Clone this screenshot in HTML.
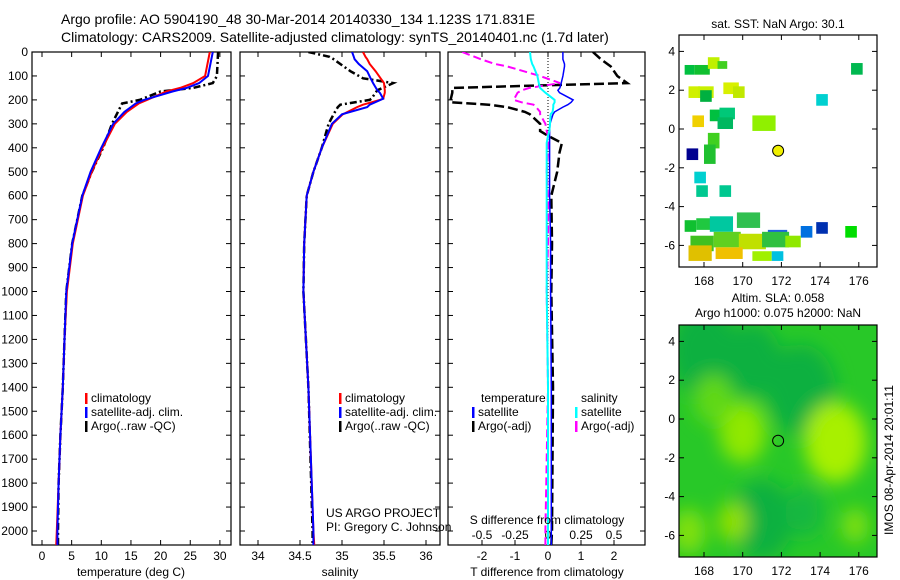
<!DOCTYPE html>
<html><head><meta charset="utf-8"><style>
body{margin:0;background:#fff;}
svg{display:block;font-family:"Liberation Sans",sans-serif;}
text{fill:#000;}
</style></head><body>
<svg id="fig" width="900" height="580" viewBox="0 0 900 580" xmlns="http://www.w3.org/2000/svg">
<defs>
<filter id="blur" x="-50%" y="-50%" width="200%" height="200%"><feGaussianBlur stdDeviation="9"/></filter>
<clipPath id="clipP1"><rect x="32" y="52" width="199" height="493"/></clipPath>
<clipPath id="clipP2"><rect x="240" y="52" width="200" height="493"/></clipPath>
<clipPath id="clipP3"><rect x="448" y="52" width="197" height="493"/></clipPath>
<clipPath id="clipM1"><rect x="679" y="35" width="198" height="232"/></clipPath>
<clipPath id="clipM2"><rect x="679" y="325" width="198" height="232"/></clipPath>
</defs>
<text x="61" y="24" font-size="14">Argo profile: AO 5904190_48 30-Mar-2014 20140330_134 1.123S 171.831E</text>
<text x="61" y="42" font-size="14">Climatology: CARS2009. Satellite-adjusted climatology: synTS_20140401.nc (1.7d later)</text>
<g id="g1"></g>
<g id="g2"></g>
<g id="g3"></g>
<g id="m1"></g>
<g id="m2"></g>
<text x="778" y="28" font-size="12" text-anchor="middle">sat. SST: NaN Argo: 30.1</text>
<text x="778" y="302" font-size="12" text-anchor="middle">Altim. SLA: 0.058</text>
<text x="778" y="317" font-size="12" text-anchor="middle">Argo h1000: 0.075 h2000: NaN</text>
<text transform="translate(893,460) rotate(-90)" font-size="12" text-anchor="middle">IMOS 08-Apr-2014 20:01:11</text>
<text x="326" y="517" font-size="12">US ARGO PROJECT</text>
<text x="326" y="531" font-size="12">PI: Gregory C. Johnson</text>
</svg>
<script>
const NS="http://www.w3.org/2000/svg";
// depth grids and profiles
const depthT=[0,100,130,150,165,200,215,250,300,400,500,600,800,1000,1200,1400,1600,1800,2000,2060];
const tempClim=[28.3,27.5,25.5,23.3,21,17.7,16.3,14.3,12.3,10.2,8.4,6.9,5.2,4.2,3.8,3.5,3.1,2.8,2.5,2.4];
const tempSat=[28.8,28.0,26.5,24.4,22,17.2,15.8,13.9,12.0,10.0,8.2,6.8,5.1,4.1,3.8,3.5,3.1,2.8,2.6,2.6];
const tempArgo=[29.7,29.5,28.8,25.5,20,16.5,13.5,12.8,11.8,10.3,8.4,6.8,5.1,4.1,3.8,3.5,3.1,2.8,2.7,2.7];
const depthS=[0,20,30,50,80,110,130,160,170,195,200,220,230,260,300,400,500,600,800,1000,1400,2000,2060];
const salClim=[35.25,35.28,35.3,35.33,35.4,35.46,35.5,35.51,35.51,35.49,35.45,35.25,35.18,35.01,34.89,34.76,34.66,34.58,34.55,34.54,34.6,34.66,34.67];
const salSat=[35.12,35.14,35.15,35.2,35.3,35.34,35.37,35.42,35.45,35.49,35.46,35.33,35.3,35.0,34.88,34.76,34.66,34.58,34.55,34.54,34.6,34.66,34.66];
const salArgo=[34.6,34.85,34.9,34.98,35.1,35.25,35.61,35.42,35.4,35.35,35.33,34.98,34.95,34.9,34.84,34.76,34.66,34.58,34.55,34.54,34.6,34.65,34.65];
const depthD=[0,30,50,60,100,130,150,160,170,200,210,220,230,250,260,300,330,350,380,420,500,600,800,1000,1400,2000,2060];
const tDiffSat=[0.45,0.45,0.5,0.5,0.45,0.4,0.36,0.3,0.35,0.76,0.7,0.6,0.45,0.2,0.15,0.06,0.05,0.05,0.05,0.05,0.05,0.05,0.08,0.08,0.1,0.1,0.1];
const sDiffSat=[-0.136,-0.13,-0.12,-0.11,-0.08,-0.07,-0.06,-0.04,-0.02,0.05,0.05,0.04,0.04,0.035,0.02,0.015,0.01,0.0,-0.01,-0.01,-0.01,-0.01,-0.01,-0.01,0.0,0.0,0.0];
const tDiffArgo=[1.36,1.6,1.8,1.9,2.1,2.4,-2.9,-2.9,-2.9,-2.95,-2.95,-1.8,-1.24,-0.7,-0.55,-0.24,-0.24,0.0,0.42,0.35,0.28,0.1,0.12,0.1,0.15,0.12,0.1];
const sDiffArgo=[-0.65,-0.51,-0.4,-0.31,-0.06,0.09,-0.14,-0.2,-0.23,-0.26,-0.2,-0.11,-0.09,-0.06,-0.06,-0.02,-0.01,0.0,0.0,0.0,-0.01,0.0,0.0,-0.01,0.0,-0.02,-0.02];
const tTicks=[0,5,10,15,20,25,30];
const sTicks=[34,34.5,35,35.5,36];
const dTicksT=[-2,-1,0,1,2];
const dTicksS=[-0.5,-0.25,0,0.25,0.5];
const depthTicks=[0,100,200,300,400,500,600,700,800,900,1000,1100,1200,1300,1400,1500,1600,1700,1800,1900,2000];
// maps
const lonTicks=[168,170,172,174,176];
const latTicks=[4,2,0,-2,-4,-6];
const sstLon=[167,167.5,168.2,168.7,167.2,167.7,169,169.5,167.8,168.3,168.8,167.4,168.7,170.5,168.2,167.1,168,173.8,175.6,167.5,167.6,168.8,167,167.6,168.3,169.7,171.3,173,173.8,175.3,167.3,168.5,169.8,171.0,172.2,167.2,168.6,170.5,171.5];
const sstLat=[2.8,2.8,3.1,3.1,1.6,1.6,1.8,1.6,1.4,0.4,0.5,0.1,0.0,-0.1,-1.0,-1.6,-1.8,1.2,2.8,-2.8,-3.5,-3.5,-5.3,-5.2,-5.3,-5.1,-5.8,-5.6,-5.4,-5.6,-6.3,-6.1,-6.2,-6.1,-6.1,-6.8,-6.7,-6.8,-6.8];
const sstW=[0.5,0.8,0.6,0.5,0.6,0.8,0.8,0.6,0.6,0.8,0.8,0.6,0.8,1.2,0.6,0.6,0.6,0.6,0.6,0.6,0.6,0.6,0.6,1.2,1.2,1.2,1.0,0.6,0.6,0.6,1.2,1.4,1.4,1.4,0.8,1.2,1.4,1.0,0.6];
const sstH=[0.5,0.5,0.6,0.4,0.6,0.6,0.6,0.6,0.6,0.6,0.6,0.6,0.6,0.8,0.8,0.6,1.0,0.6,0.6,0.6,0.6,0.6,0.6,0.6,0.8,0.8,0.6,0.6,0.6,0.6,0.8,0.8,0.8,0.8,0.6,0.8,0.6,0.5,0.5];
const sstCol=["#00c040","#10c030","#c0f000","#40d020","#d0f000","#c8f000","#d8f000","#c0e800","#00b040","#00c040","#00c878","#f0d000","#00b860","#90f000","#40d020","#000090","#20c030","#00d0d0","#00b850","#00d0d0","#00c890","#00c890","#10c030","#20c840","#00c8a0","#30c050","#2060e0","#0070e0","#0030b0","#00dd00","#40c020","#60d020","#c0e000","#30c040","#90e800","#e0c000","#f0c000","#a0f000","#00c0e0"];
const blobLon=[168,170.5,173,174.8,170,167.2,175.8,171,169.5,168.5,173.2];
const blobLat=[3.5,3,1.5,-1.2,-0.7,-5.8,-5.5,-5.2,-5.3,1.0,-4.8];
const blobCol=["#10b040","#10b040","#10b040","#a8f000","#90e800","#80e010","#80e010","#10b040","#90e000","#60d818","#18b840"];
const blobR=[1.8,1.5,1.8,1.6,1.2,0.9,0.7,1.6,0.8,1.0,1.0];
const argoLon=171.831, argoLat=-1.123;

function el(tag,attrs,parent){const e=document.createElementNS(NS,tag);for(const k in attrs)e.setAttribute(k,attrs[k]);parent.appendChild(e);return e;}
const yD=d=>52+d*0.2395;

function frame(g,x0,x1,name){
  const r=el('rect',{x:x0,y:52,width:x1-x0,height:493,fill:'none',stroke:'#000','stroke-width':1.2},g);
  
  
}
function depthAxis(g,x0,x1,labels){
  depthTicks.forEach(d=>{
    const y=yD(d);
    el('line',{x1:x0,y1:y,x2:x0+5,y2:y,stroke:'#000'},g);
    el('line',{x1:x1,y1:y,x2:x1-5,y2:y,stroke:'#000'},g);
    if(labels){const t=el('text',{x:x0-4,y:y+4,'font-size':12,'text-anchor':'end'},g);t.textContent=d;
      
      }
  });
}
function xAxis(g,ticks,fx,labY,fmt){
  ticks.forEach(v=>{const x=fx(v);
    el('line',{x1:x,y1:545,x2:x,y2:540,stroke:'#000'},g);
    el('line',{x1:x,y1:52,x2:x,y2:57,stroke:'#000'},g);
    const t=el('text',{x:x,y:labY,'font-size':12,'text-anchor':'middle'},g);t.textContent=fmt?fmt(v):v;
    
    
  });
}
function line(g,xs,ds,fx,col,dash,w,name,clip){
  const pts=xs.map((v,i)=>fx(v).toFixed(1)+','+yD(ds[i]).toFixed(1)).join(' ');
  const p=el('polyline',{points:pts,fill:'none',stroke:col,'stroke-width':w,'clip-path':'url(#'+clip+')'},g);
  if(dash)p.setAttribute('stroke-dasharray',dash);
  
  
}
function legend(g,x,y,items){
  items.forEach((it,i)=>{
    el('rect',{x:x,y:y+i*14-9,width:2.5,height:11,fill:it[0]},g);
    const t=el('text',{x:x+6,y:y+i*14,'font-size':12},g);t.textContent=it[1];
    
    
  });
}
// panel 1
const g1=document.getElementById('g1');
const fT=v=>42+v*5.93;
frame(g1,32,231,'temperature');depthAxis(g1,32,231,true);xAxis(g1,tTicks,fT,560);
line(g1,tempArgo,depthT,fT,'#000','7,3,2,3',2.5,'argo-temperature-line','clipP1');
line(g1,tempClim,depthT,fT,'#f00',null,2,'climatology-temperature-line','clipP1');
line(g1,tempSat,depthT,fT,'#00f',null,2,'satellite-temperature-line','clipP1');
let t=el('text',{x:131,y:576,'font-size':12,'text-anchor':'middle'},g1);t.textContent='temperature (deg C)';
legend(g1,85,402,[['#f00','climatology'],['#00f','satellite-adj. clim.'],['#000','Argo(..raw -QC)']]);
// panel 2
const g2=document.getElementById('g2');
const fS=v=>258+(v-34)*84;
frame(g2,240,440,'salinity');depthAxis(g2,240,440,false);xAxis(g2,sTicks,fS,560);
line(g2,salArgo,depthS,fS,'#000','7,3,2,3',2.5,'argo-salinity-line','clipP2');
line(g2,salClim,depthS,fS,'#f00',null,2,'climatology-salinity-line','clipP2');
line(g2,salSat,depthS,fS,'#00f',null,2,'satellite-salinity-line','clipP2');
t=el('text',{x:340,y:576,'font-size':12,'text-anchor':'middle'},g2);t.textContent='salinity';
legend(g2,339,402,[['#f00','climatology'],['#00f','satellite-adj. clim.'],['#000','Argo(..raw -QC)']]);
// panel 3
const g3=document.getElementById('g3');
const fTD=v=>548+v*33, fSD=v=>548+v*132;
frame(g3,448,645,'difference');depthAxis(g3,448,645,false);xAxis(g3,dTicksT,fTD,560);
dTicksS.forEach(v=>{const tt=el('text',{x:fSD(v),y:539,'font-size':12,'text-anchor':'middle'},g3);tt.textContent=v;
  
  });
el('line',{x1:548,y1:52,x2:548,y2:545,stroke:'#000','stroke-dasharray':'1,2'},g3);
line(g3,tDiffArgo,depthD,fTD,'#000','10,4',2.5,'argo-temperature-diff-line','clipP3');
line(g3,sDiffArgo,depthD,fSD,'#f0f','8,4',2,'argo-salinity-diff-line','clipP3');
line(g3,tDiffSat,depthD,fTD,'#00f',null,1.5,'satellite-temperature-diff-line','clipP3');
line(g3,sDiffSat,depthD,fSD,'#0ff',null,2,'satellite-salinity-diff-line','clipP3');
t=el('text',{x:547,y:524,'font-size':12,'text-anchor':'middle'},g3);t.textContent='S difference from climatology';
t=el('text',{x:547,y:576,'font-size':12,'text-anchor':'middle'},g3);t.textContent='T difference from climatology';
t=el('text',{x:481,y:402,'font-size':12},g3);t.textContent='temperature';
t=el('text',{x:581,y:402,'font-size':12},g3);t.textContent='salinity';
legend(g3,472,416,[['#00f','satellite'],['#000','Argo(-adj)']]);
legend(g3,575,416,[['#0ff','satellite'],['#f0f','Argo(-adj)']]);
// maps
function map(g,top,clip,name,fill){
  const fx=lon=>704+(lon-168)*19.35;
  const fy=lat=>top+94-lat*19.4;
  fill(fx,fy);
  const r=el('rect',{x:679,y:top,width:198,height:232,fill:'none',stroke:'#000','stroke-width':1.2},g);
  
  
  lonTicks.forEach(v=>{const x=fx(v);
    el('line',{x1:x,y1:top+232,x2:x,y2:top+227,stroke:'#000'},g);
    el('line',{x1:x,y1:top,x2:x,y2:top+5,stroke:'#000'},g);
    const tt=el('text',{x:x,y:top+250,'font-size':12,'text-anchor':'middle'},g);tt.textContent=v;
    
    });
  latTicks.forEach(v=>{const y=fy(v);
    el('line',{x1:679,y1:y,x2:684,y2:y,stroke:'#000'},g);
    el('line',{x1:877,y1:y,x2:872,y2:y,stroke:'#000'},g);
    const tt=el('text',{x:675,y:y+4,'font-size':12,'text-anchor':'end'},g);tt.textContent=v;
    
    });
  return {fx,fy};
}
const m1=document.getElementById('m1');
const a1=map(m1,35,'clipM1','sst-map',(fx,fy)=>{
  const cg=el('g',{'clip-path':'url(#clipM1)'},m1);
  sstLon.forEach((lon,i)=>{
    const r=el('rect',{x:fx(lon),y:fy(sstLat[i]+sstH[i]),width:sstW[i]*19.35,height:sstH[i]*19.4,fill:sstCol[i]},cg);
    
    
  });
});
let c=el('circle',{cx:a1.fx(argoLon),cy:a1.fy(argoLat),r:5.5,fill:'#f0f000',stroke:'#000'},m1);


const m2=document.getElementById('m2');
const a2=map(m2,325,'clipM2','sla-map',(fx,fy)=>{
  const cg=el('g',{'clip-path':'url(#clipM2)'},m2);
  el('rect',{x:679,y:325,width:198,height:232,fill:'#28c828'},cg);
  const bg=el('g',{filter:'url(#blur)'},cg);
  blobLon.forEach((lon,i)=>{
    const e=el('ellipse',{cx:fx(lon),cy:fy(blobLat[i]),rx:blobR[i]*19.35,ry:blobR[i]*19.4*1.3,fill:blobCol[i]},bg);
    
    
  });
});
c=el('circle',{cx:a2.fx(argoLon),cy:a2.fy(argoLat),r:5.5,fill:'none',stroke:'#000'},m2);


</script>
</body></html>
